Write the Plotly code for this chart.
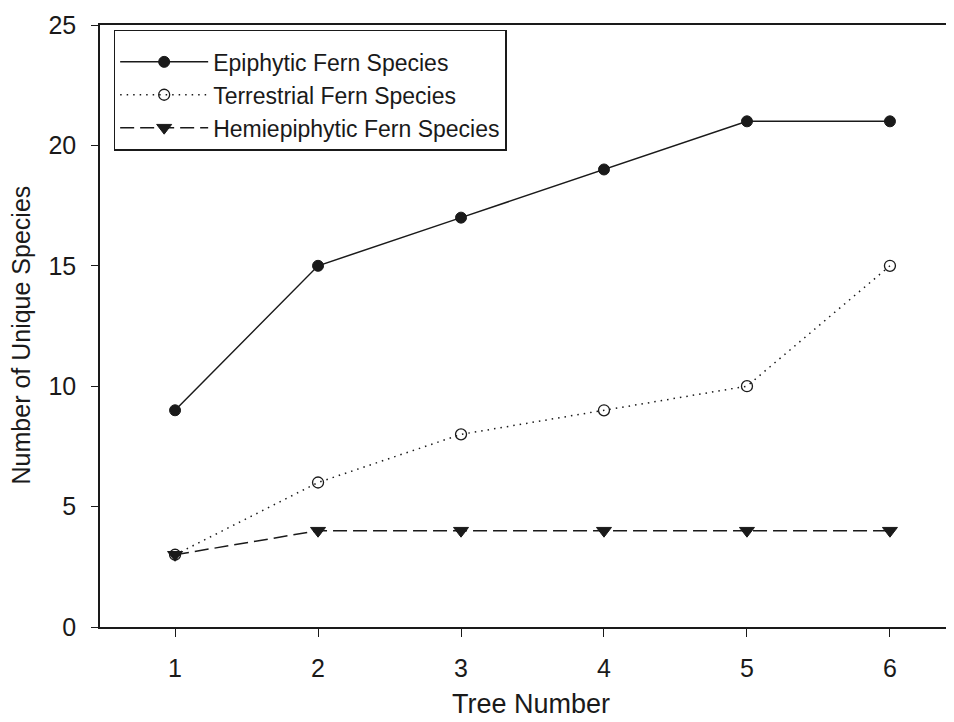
import plotly.graph_objects as go

trees = [1, 2, 3, 4, 5, 6]
epiphytic = [9, 15, 17, 19, 21, 21]
terrestrial = [3, 6, 8, 9, 10, 15]
hemiepiphytic = [3, 4, 4, 4, 4, 4]
y_ticks = [0, 5, 10, 15, 20, 25]
x_title = "Tree Number"
y_title = "Number of Unique Species"

FONT = "Liberation Sans, Arial, sans-serif"
INK = "#1a1a1a"

fig = go.Figure()
fig.add_trace(go.Scatter(
    x=trees, y=epiphytic, mode="lines+markers", name="Epiphytic Fern Species",
    line=dict(color=INK, width=1.5, dash="solid"),
    marker=dict(symbol="circle", size=11, color=INK, line=dict(color=INK, width=1))))
fig.add_trace(go.Scatter(
    x=trees, y=terrestrial, mode="lines+markers", name="Terrestrial Fern Species",
    line=dict(color=INK, width=1.5, dash="1.5px,5px"),
    marker=dict(symbol="circle-open", size=11, color=INK, line=dict(color=INK, width=1.3))))
fig.add_trace(go.Scatter(
    x=trees, y=hemiepiphytic, mode="lines+markers", name="Hemiepiphytic Fern Species",
    line=dict(color=INK, width=1.5, dash="14px,6px"),
    marker=dict(symbol="triangle-down", size=13, color=INK, line=dict(color=INK, width=1))))

fig.add_annotation(text=x_title, xref="paper", yref="paper", x=0.505, y=-0.128,
                   xanchor="center", yanchor="middle", showarrow=False,
                   font=dict(family=FONT, size=27, color=INK))
fig.add_annotation(text=y_title, xref="paper", yref="paper", x=-0.092, y=0.485,
                   xanchor="center", yanchor="middle", showarrow=False, textangle=-90,
                   font=dict(family=FONT, size=25, color=INK))

fig.update_layout(
    width=946, height=714,
    margin=dict(l=92, r=0, t=17, b=95),
    paper_bgcolor="white", plot_bgcolor="white",
    font=dict(family=FONT, size=22, color=INK),
    showlegend=True,
    legend=dict(x=0.016, y=0.992, xanchor="left", yanchor="top",
                bgcolor="white", bordercolor=INK, borderwidth=1.5,
                font=dict(family=FONT, size=23, color=INK),
                title=dict(text=" ", font=dict(size=7)),
                itemwidth=88, tracegroupgap=0),
    xaxis=dict(range=[0.475, 6.448], tickvals=trees, ticks="outside", ticklen=8,
               tickcolor=INK, showline=True, linecolor=INK, linewidth=1.5,
               mirror=True, showgrid=False, zeroline=False,
               ticklabelstandoff=10, tickfont=dict(size=25)),
    yaxis=dict(range=[0, 25], tickvals=y_ticks, ticks="outside", ticklen=7,
               tickcolor=INK, showline=True, linecolor=INK, linewidth=1.5,
               showgrid=False, zeroline=False, ticklabelstandoff=10,
               tickfont=dict(size=25)),
)

fig.write_html("out.html")
